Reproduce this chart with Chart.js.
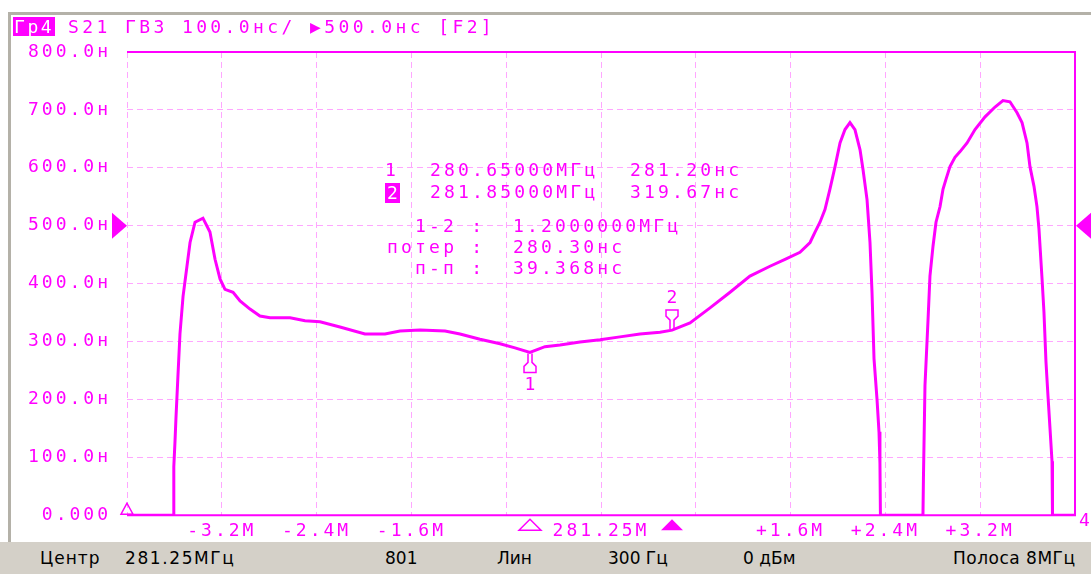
<!DOCTYPE html>
<html>
<head>
<meta charset="utf-8">
<script src="https://cdn.jsdelivr.net/npm/chart.js@4.4.1/dist/chart.umd.min.js"></script>
<style>
  html, body { margin: 0; padding: 0; background: #fff; }
  body { width: 1091px; height: 574px; position: relative; overflow: hidden; }
  #plot { position: absolute; left: 0; top: 0; }
  .frame { position: absolute; left: 8px; top: 12px; width: 1083px; height: 530px;
           border-top: 3px solid #b4b1a8; border-left: 3px solid #b4b1a8; box-sizing: border-box; }
  .mono { position: absolute; font-family: 'DejaVu Sans Mono', monospace; font-size: 18px;
          letter-spacing: 3.2px; color: #ff00ff; line-height: 20px; white-space: pre; }
  .inv { background: #ff00ff; color: #fff; }
  #status { position: absolute; left: 0; top: 542px; width: 1091px; height: 32px; background: #d4d0c8;
            font-family: 'DejaVu Sans', sans-serif; font-size: 17px; color: #000; }
  #status span { position: absolute; top: 6px; line-height: 20px; white-space: pre; }
</style>
</head>
<body>
<div class="frame"></div>
<canvas id="plot" width="1091" height="542"></canvas>

<div class="mono inv" style="left:13px; top:17px; height:19px; width:42px; letter-spacing:2.6px; line-height:19px; text-indent:1px; box-sizing:border-box;">Гр4</div>
<div class="mono" style="left:68px; top:17px; letter-spacing:3.4px;">S21 ГВЗ 100.0нс/ ▶500.0нс [F2]</div>

<div class="mono" style="left:385px; top:160px;">1</div>
<div class="mono" style="left:430px; top:160px;">280.65000МГц</div>
<div class="mono" style="left:630px; top:160px;">281.20нс</div>
<div class="mono inv" style="left:385px; top:183px; letter-spacing:0; padding:0 2px;">2</div>
<div class="mono" style="left:430px; top:182px;">281.85000МГц</div>
<div class="mono" style="left:630px; top:182px;">319.67нс</div>
<div class="mono" style="left:415px; top:216px;">1-2 :</div>
<div class="mono" style="left:513px; top:216px;">1.2000000МГц</div>
<div class="mono" style="left:387px; top:237px;">потер :</div>
<div class="mono" style="left:513px; top:237px;">280.30нс</div>
<div class="mono" style="left:415px; top:258px;">п-п :</div>
<div class="mono" style="left:513px; top:258px;">39.368нс</div>
<div class="mono" style="left:1079px; top:510px;">4</div>

<div id="status">
  <span style="left:40px; letter-spacing:1px;">Центр</span>
  <span style="left:125px; letter-spacing:1.6px;">281.25МГц</span>
  <span style="left:385px;">801</span>
  <span style="left:497px;">Лин</span>
  <span style="left:608px;">300 Гц</span>
  <span style="left:743px;">0 дБм</span>
  <span style="left:953px; letter-spacing:0.5px;">Полоса 8МГц</span>
</div>

<script>
// trace: offset from centre 281.25 MHz (MHz) vs group delay (ns)
const freqOffsetMHz = [
  -4.000, -3.610, -3.605, -3.595, -3.587, -3.570, -3.553, -3.527, -3.494, -3.468,
  -3.426, -3.359, -3.300, -3.257, -3.215, -3.173, -3.105, -3.046, -2.962, -2.878,
  -2.793, -2.624, -2.498, -2.371, -2.203, -1.992, -1.823, -1.696, -1.527, -1.316,
  -1.190, -1.021, -0.852, -0.726, -0.600, -0.473, -0.346, -0.177, -0.008, 0.160,
  0.329, 0.498, 0.600, 0.751, 0.920, 1.089, 1.257, 1.426, 1.553, 1.679,
  1.764, 1.806, 1.848, 1.890, 1.932, 1.975, 2.017, 2.059, 2.101, 2.143,
  2.186, 2.211, 2.245, 2.270, 2.287, 2.304, 2.329, 2.346, 2.354, 2.358,
  2.717, 2.721, 2.734, 2.759, 2.776, 2.802, 2.827, 2.861, 2.886, 2.911,
  2.945, 2.987, 3.030, 3.089, 3.156, 3.241, 3.325, 3.392, 3.451, 3.511,
  3.553, 3.595, 3.620, 3.654, 3.679, 3.696, 3.722, 3.738, 3.755, 3.772,
  3.789, 3.806, 3.810, 4.000
];
const groupDelayNs = [
  0, 0, 84, 127, 167, 241, 313, 378, 430, 471,
  506, 513, 489, 442, 408, 390, 385, 370, 356, 344,
  341, 341, 336, 334, 325, 313, 313, 318, 320, 318,
  313, 304, 296, 289, 281.2, 291, 294, 299, 303, 308,
  313, 316, 319.67, 332, 358, 385, 413, 430, 442, 454,
  471, 489, 506, 528, 563, 602, 643, 666, 678, 666,
  631, 597, 545, 471, 385, 270, 201, 144, 90, 0,
  0, 64, 224, 334, 413, 465, 506, 533, 563, 580,
  602, 618, 628, 643, 666, 688, 705, 716, 714, 695,
  678, 643, 602, 568, 533, 494, 408, 351, 265, 206,
  150, 93, 0, 0
];

const xTickValues = [-4, -3.2, -2.4, -1.6, -0.8, 0, 0.8, 1.6, 2.4, 3.2, 4];
const xTickLabels = ['', '-3.2M', '-2.4M', '-1.6M', '', '281.25M', '', '+1.6M', '+2.4M', '+3.2M', ''];
const yTickValues = [0, 100, 200, 300, 400, 500, 600, 700, 800];
const yTickLabels = ['0.000', '100.0н', '200.0н', '300.0н', '400.0н', '500.0н', '600.0н', '700.0н', '800.0н'];

const markerNames = ['1', '2'];
const markerFreqs = [-0.6, 0.6];
const markerDelays = [281.2, 319.67];
const refLevel = 500;

const traceColor = '#ff00ff';
const gridColor = '#ffa6ff';
const monoFont = { family: "'DejaVu Sans Mono', monospace", size: 18 };

const spacingPlugin = {
    id: 'spacing',
    beforeDraw: (chart) => { chart.ctx.letterSpacing = '3px'; }
};

// frame, reference arrows and marker symbols
const decorPlugin = {
    id: 'decor',
    afterDatasetsDraw: (chart) => {
        const { ctx, chartArea: a, scales: { x, y } } = chart;
        ctx.save();
        ctx.setLineDash([]);
        ctx.strokeStyle = traceColor;
        ctx.fillStyle = traceColor;
        ctx.lineWidth = 2;
        ctx.beginPath();
        ctx.moveTo(a.left, a.top);
        ctx.lineTo(a.right, a.top);
        ctx.lineTo(a.right, a.bottom);
        ctx.lineTo(a.left, a.bottom);
        ctx.stroke();

        // reference level arrows
        const ry = y.getPixelForValue(refLevel);
        ctx.beginPath();
        ctx.moveTo(a.left - 15, ry - 13);
        ctx.lineTo(a.left, ry);
        ctx.lineTo(a.left - 15, ry + 13);
        ctx.closePath();
        ctx.fill();
        ctx.beginPath();
        ctx.moveTo(a.right + 16, ry - 13);
        ctx.lineTo(a.right + 1, ry);
        ctx.lineTo(a.right + 16, ry + 13);
        ctx.closePath();
        ctx.fill();

        // start marker at bottom left
        ctx.lineWidth = 1.5;
        ctx.beginPath();
        ctx.moveTo(a.left, a.bottom - 12);
        ctx.lineTo(a.left - 6, a.bottom - 1);
        ctx.lineTo(a.left + 6, a.bottom - 1);
        ctx.closePath();
        ctx.stroke();

        ctx.font = "18px 'DejaVu Sans Mono', monospace";
        ctx.textAlign = 'center';
        ctx.textBaseline = 'middle';
        markerFreqs.forEach((f, i) => {
            const px = Math.round(x.getPixelForValue(f));
            const py = y.getPixelForValue(markerDelays[i]);
            const s = i === 0 ? 1 : -1;
            ctx.beginPath();
            ctx.moveTo(px - 2, py + s * 1);
            ctx.lineTo(px - 2, py + s * 10);
            ctx.lineTo(px - 6, py + s * 14);
            ctx.lineTo(px - 6, py + s * 20);
            ctx.lineTo(px + 6, py + s * 20);
            ctx.lineTo(px + 6, py + s * 14);
            ctx.lineTo(px + 2, py + s * 10);
            ctx.lineTo(px + 2, py + s * 1);
            ctx.stroke();
            ctx.fillText(markerNames[i], px + 1.5, py + s * (i === 0 ? 33 : 32));

            // marker position on the frequency axis
            ctx.beginPath();
            ctx.moveTo(px, a.bottom + 4);
            ctx.lineTo(px - 11, a.bottom + 15);
            ctx.lineTo(px + 11, a.bottom + 15);
            ctx.closePath();
            if (i === 1) ctx.fill(); else ctx.stroke();
        });
        ctx.restore();
    }
};

new Chart(document.getElementById('plot'), {
    type: 'line',
    data: {
        datasets: [{
            data: freqOffsetMHz.map((f, i) => ({ x: f, y: groupDelayNs[i] })),
            borderColor: traceColor,
            borderWidth: 3,
            pointRadius: 0,
            tension: 0,
            fill: false
        }]
    },
    options: {
        responsive: false,
        animation: false,
        devicePixelRatio: 1,
        layout: { padding: { left: 10, right: 16, top: 52, bottom: 0 } },
        plugins: { legend: { display: false }, tooltip: { enabled: false } },
        scales: {
            x: {
                type: 'linear', min: -4, max: 4,
                afterBuildTicks: s => { s.ticks = xTickValues.map(v => ({ value: v })); },
                afterFit: s => { s.height = 25; },
                grid: { color: gridColor, lineWidth: 1, drawTicks: false },
                border: { display: false, dash: [6, 4] },
                ticks: {
                    padding: 5, color: traceColor, font: monoFont, maxRotation: 0, autoSkip: false,
                    callback: (v, i) => xTickLabels[i]
                }
            },
            y: {
                min: 0, max: 800,
                afterBuildTicks: s => { s.ticks = yTickValues.map(v => ({ value: v })); },
                afterFit: s => { s.width = 117; },
                grid: { color: gridColor, lineWidth: 1, drawTicks: false },
                border: { display: false, dash: [6, 4] },
                ticks: {
                    padding: 16, color: traceColor, font: monoFont,
                    callback: (v, i) => yTickLabels[i]
                }
            }
        }
    },
    plugins: [spacingPlugin, decorPlugin]
});
</script>
</body>
</html>
